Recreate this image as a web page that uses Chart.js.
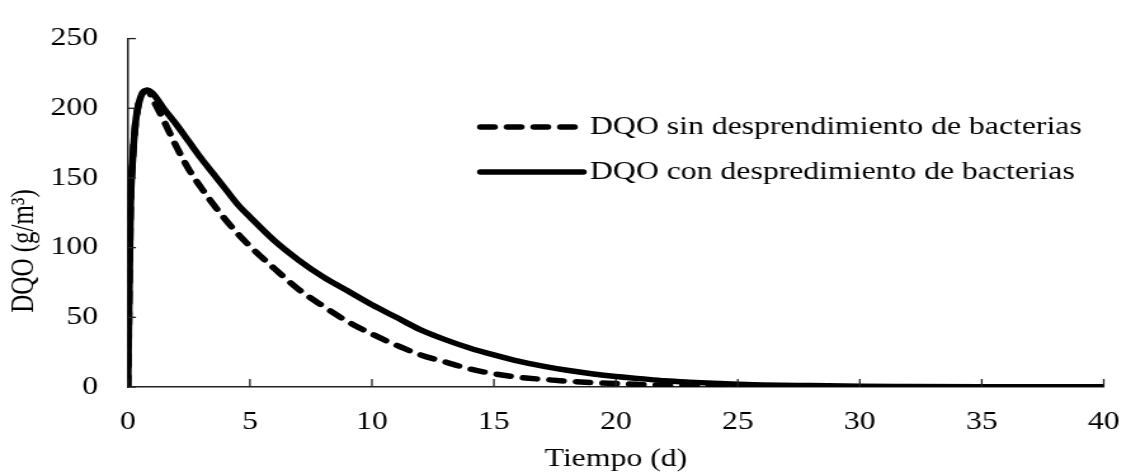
<!DOCTYPE html>
<html>
<head>
<meta charset="utf-8">
<script src="https://cdn.jsdelivr.net/npm/chart.js@4.4.1/dist/chart.umd.min.js"></script>
<style>
  html, body { margin: 0; padding: 0; background: #fff; overflow: hidden; }
  #wrap { width: 902px; height: 476px; transform: scaleX(1.2694); transform-origin: 0 0; }
  canvas { display: block; }
</style>
</head>
<body>
<div id="wrap"><canvas id="c" width="902" height="476"></canvas></div>
<script>
// Tiempo (d)
const tiempo = [0, 0.1, 0.2, 0.3, 0.4, 0.5, 0.6, 0.8, 1.0, 1.5, 2.0, 2.5, 3.0, 3.5, 4.0, 4.5, 5.0,
  6, 7, 8, 9, 10, 11, 12, 13, 14, 15, 16, 17, 18, 19, 20, 21, 22, 23, 24, 25, 26, 28, 30, 32, 35, 40];

// DQO (g/m3) sin desprendimiento de bacterias
const dqoSin = [0, 125, 165, 188, 200, 207, 211, 213, 207, 190, 172, 156, 143, 131, 120, 110, 101,
  85, 70, 58, 47, 38, 30, 23, 18, 13, 9.5, 7, 5.5, 4.2, 3.2, 2.5, 1.8, 1.3, 1.0, 0.7, 0.5, 0.4, 0.3, 0.2, 0.1, 0.05, 0];

// DQO (g/m3) con desprendimiento de bacterias
const dqoCon = [0, 125, 165, 188, 200, 207, 211, 213, 211, 199, 188, 176, 164, 153, 142, 131, 122,
  105, 91, 79, 69, 59, 50, 41, 34, 28, 23, 18.5, 15, 12, 9.5, 7.5, 6, 4.5, 3.5, 2.7, 2.0, 1.5, 1.0, 0.6, 0.4, 0.2, 0.1];

const xTicks = [0, 5, 10, 15, 20, 25, 30, 35, 40];
const yTicks = [0, 50, 100, 150, 200, 250];

const seriesNames = ['DQO sin desprendimiento de bacterias', 'DQO con despredimiento de bacterias'];
const xTitle = 'Tiempo (d)';
const yTitle = 'DQO (g/m³)';

const FONT = "'Liberation Serif', 'Times New Roman', Times, serif";
const FONT_SIZE = 25;
const toPoints = (ys) => tiempo.map((t, i) => ({ x: t, y: ys[i] }));

// Inward tick marks, axis titles and the in-plot legend
const decorations = {
  id: 'decorations',
  afterDraw(chart) {
    const ctx = chart.ctx;
    const area = chart.chartArea;
    const xs = chart.scales.x, ys = chart.scales.y;
    ctx.save();
    ctx.strokeStyle = '#222';
    ctx.lineWidth = 1.3;
    xs.ticks.forEach(t => {
      const px = xs.getPixelForValue(t.value);
      ctx.beginPath(); ctx.moveTo(px, area.bottom); ctx.lineTo(px, area.bottom - 8); ctx.stroke();
    });
    ys.ticks.forEach(t => {
      const py = ys.getPixelForValue(t.value);
      ctx.beginPath(); ctx.moveTo(area.left, py); ctx.lineTo(area.left + 6.3, py); ctx.stroke();
    });

    ctx.fillStyle = '#000';
    ctx.font = FONT_SIZE + 'px ' + FONT;
    ctx.textAlign = 'center';
    ctx.textBaseline = 'middle';
    ctx.fillText(xTitle, (area.left + area.right) / 2, 459);
    ctx.save();
    ctx.translate(19.7, 251);
    ctx.rotate(-Math.PI / 2);
    ctx.fillText(yTitle, 0, 0);
    ctx.restore();

    // legend
    const rows = [127, 172];
    chart.data.datasets.forEach((ds, i) => {
      const y = rows[i];
      ctx.save();
      ctx.strokeStyle = ds.borderColor;
      ctx.lineWidth = ds.borderWidth;
      ctx.lineCap = 'round';
      ctx.setLineDash(ds.borderDash || []);
      ctx.beginPath(); ctx.moveTo(378.5, y); ctx.lineTo(459.5, y); ctx.stroke();
      ctx.restore();
      ctx.textAlign = 'left';
      ctx.fillText(ds.label, 464.8, y);
    });
    ctx.restore();
  }
};

function draw() {
  new Chart(document.getElementById('c'), {
    type: 'line',
    data: {
      datasets: [
        {
          label: seriesNames[0],
          data: toPoints(dqoSin),
          borderColor: '#000',
          borderWidth: 5.5,
          borderDash: [11, 10],
          borderCapStyle: 'round',
          borderJoinStyle: 'round',
          pointRadius: 0,
          cubicInterpolationMode: 'monotone',
          fill: false
        },
        {
          label: seriesNames[1],
          data: toPoints(dqoCon),
          borderColor: '#000',
          borderWidth: 5.5,
          borderCapStyle: 'round',
          borderJoinStyle: 'round',
          pointRadius: 0,
          cubicInterpolationMode: 'monotone',
          fill: false
        }
      ]
    },
    options: {
      responsive: false,
      animation: false,
      devicePixelRatio: 1,
      layout: { padding: { left: 0, right: 17.3, top: 21.7, bottom: 0 } },
      plugins: { legend: { display: false }, tooltip: { enabled: false } },
      scales: {
        x: {
          type: 'linear', min: 0, max: 40,
          afterBuildTicks: s => { s.ticks = xTicks.map(v => ({ value: v })); },
          afterFit: s => { s.height = 89; },
          grid: { display: false, drawTicks: false },
          border: { display: true, color: '#222', width: 1.5 },
          ticks: { color: '#000', padding: 20, maxRotation: 0, font: { family: FONT, size: FONT_SIZE } }
        },
        y: {
          type: 'linear', min: 0, max: 250,
          afterBuildTicks: s => { s.ticks = yTicks.map(v => ({ value: v })); },
          afterFit: s => { s.width = 100.8; },
          grid: { display: false, drawTicks: false },
          border: { display: true, color: '#222', width: 1.5 },
          ticks: { color: '#000', padding: 23.6, font: { family: FONT, size: FONT_SIZE } }
        }
      }
    },
    plugins: [decorations]
  });
}

if (document.fonts && document.fonts.load) {
  document.fonts.load(FONT_SIZE + "px 'Liberation Serif'").then(draw, draw);
} else {
  draw();
}
</script>
</body>
</html>
